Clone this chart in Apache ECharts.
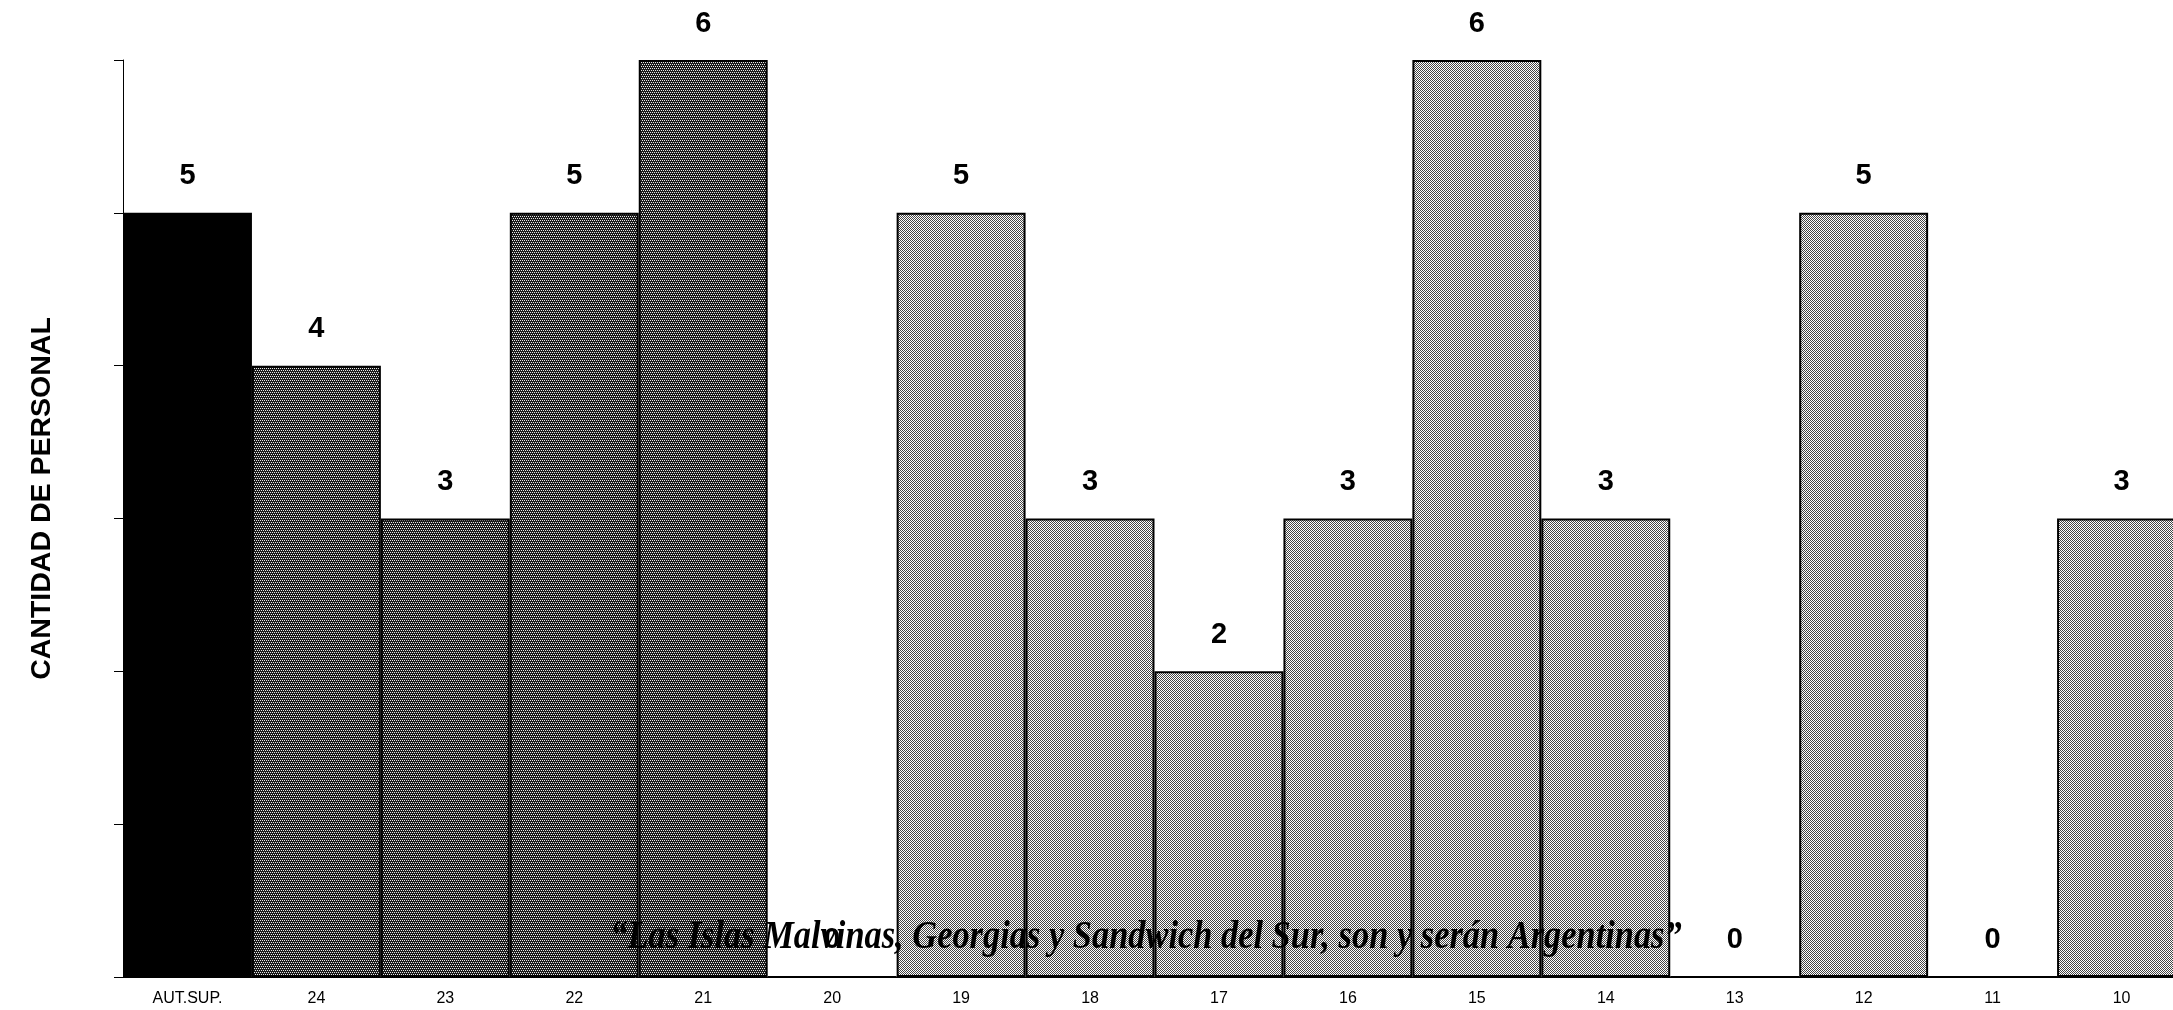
<!DOCTYPE html>
<html>
<head>
<meta charset="utf-8">
<script src="https://cdn.jsdelivr.net/npm/echarts@6/dist/echarts.min.js"></script>
<style>
  html, body { margin: 0; padding: 0; background: #fff; }
  #chart { width: 2173px; height: 1010px; }
</style>
</head>
<body>
<div id="chart"></div>
<script>
const categorias = ['AUT.SUP.', '24', '23', '22', '21', '20', '19', '18', '17', '16', '15', '14', '13', '12', '11', '10'];
const cantidad = [5, 4, 3, 5, 6, 0, 5, 3, 2, 3, 6, 3, 0, 5, 0, 3];
const yTicks = [0, 1, 2, 3, 4, 5, 6];
const lema = '\u201cLas Islas Malvinas, Georgias y Sandwich del Sur, son y serán Argentinas\u201d';

// halftone-like fills, as in the scanned original
function trama(bg, dot, pts, size) {
  const c = document.createElement('canvas');
  c.width = size; c.height = size;
  const ctx = c.getContext('2d');
  ctx.fillStyle = bg;
  ctx.fillRect(0, 0, size, size);
  ctx.fillStyle = dot;
  pts.forEach(p => ctx.fillRect(p[0], p[1], 1, 1));
  return { image: c, repeat: 'repeat' };
}
const oscuro = trama('#1a1a1a', '#e8e8e8', [[0, 0], [2, 0], [1, 2], [3, 2]], 4);
const claro = trama('#ffffff', '#444444', [[0, 0], [1, 1]], 2);

function relleno(i) {
  if (i === 0) return '#000';
  if (i <= 4) return oscuro;
  return claro;
}

const chart = echarts.init(document.getElementById('chart'));
chart.setOption({
  animation: false,
  backgroundColor: '#fff',
  grid: { left: 123, right: -13, top: 60, bottom: 33, outerBoundsMode: 'none' },
  xAxis: {
    type: 'category',
    data: categorias,
    axisLine: { lineStyle: { color: '#000', width: 1 } },
    axisTick: { length: 6, lineStyle: { color: '#000' } },
    axisLabel: { color: '#000', fontSize: 16, fontFamily: 'Liberation Sans', margin: 14, interval: 0 }
  },
  yAxis: {
    type: 'value',
    min: yTicks[0],
    max: yTicks[yTicks.length - 1],
    interval: 1,
    name: 'CANTIDAD DE PERSONAL',
    nameLocation: 'middle',
    nameRotate: 90,
    nameGap: 66,
    nameTextStyle: { color: '#000', fontSize: 28.5, fontWeight: 'bold', fontFamily: 'Liberation Sans', padding: [0, 0, 0, 40] },
    axisLine: { show: true, lineStyle: { color: '#000', width: 1 } },
    axisTick: { show: true, length: 9, lineStyle: { color: '#000' } },
    axisLabel: { show: false },
    splitLine: { show: false }
  },
  series: [{
    type: 'bar',
    barCategoryGap: 0,
    data: cantidad.map((v, i) => ({
      value: v,
      itemStyle: { color: relleno(i) }
    })),
    itemStyle: { borderColor: '#000', borderWidth: 2 },
    label: {
      show: true,
      position: 'top',
      distance: 22,
      color: '#000',
      fontSize: 29,
      fontWeight: 'bold',
      fontFamily: 'Liberation Sans'
    }
  }],
  graphic: [{
    type: 'text',
    z: 100,
    x: 1146,
    y: 938,
    scaleX: 0.86,
    style: {
      text: lema,
      font: 'italic bold 40px "Liberation Serif"',
      fill: '#000',
      align: 'center',
      verticalAlign: 'middle'
    }
  }]
});
</script>
</body>
</html>
